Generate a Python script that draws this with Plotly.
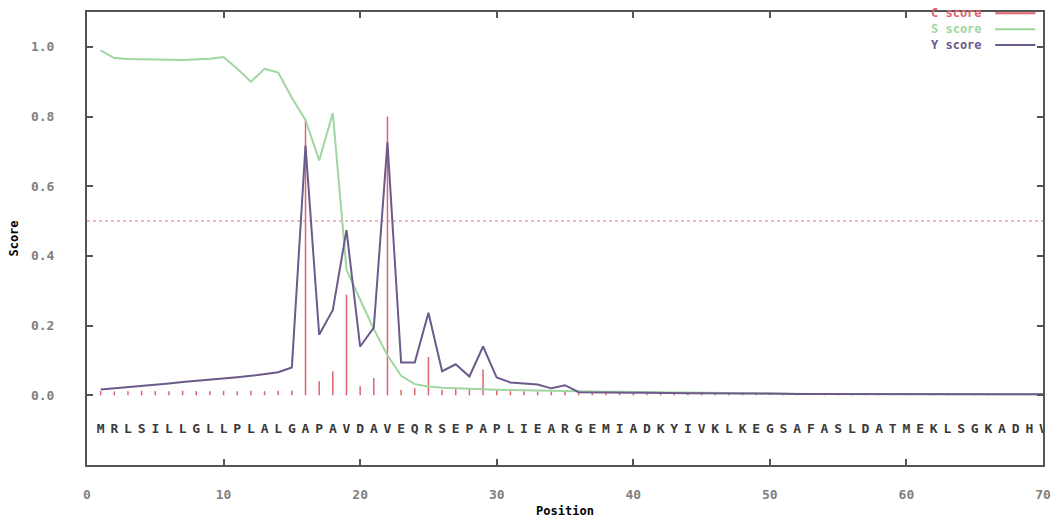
import plotly.graph_objects as go

positions = list(range(1, 71))
sequence = list("MRLSILLGLLPLALGAPAVDAVEQRSEPAPLIEARGEMIADKYIVKLKEGSAFASLDATMEKLSGKADHV")

c_score = [0.012, 0.011, 0.012, 0.013, 0.012, 0.012, 0.013, 0.012, 0.012, 0.013,
           0.012, 0.013, 0.012, 0.013, 0.014, 0.79, 0.04, 0.069, 0.289, 0.026,
           0.05, 0.80, 0.015, 0.02, 0.11, 0.015, 0.02, 0.02, 0.074, 0.015,
           0.012, 0.012, 0.011, 0.012, 0.011, 0.01, 0.01, 0.009, 0.009, 0.009,
           0.008, 0.008, 0.008, 0.008, 0.007, 0.007, 0.007, 0.007, 0.006, 0.006,
           0.006, 0.006, 0.005, 0.005, 0.005, 0.005, 0.005, 0.005, 0.005, 0.005,
           0.004, 0.004, 0.004, 0.004, 0.004, 0.004, 0.004, 0.004, 0.004, 0.004]

s_score = [0.99, 0.968, 0.965, 0.965, 0.963, 0.963, 0.962, 0.963, 0.966, 0.971,
           0.937, 0.90, 0.937, 0.926, 0.854, 0.79, 0.674, 0.81, 0.36, 0.275,
           0.19, 0.115, 0.056, 0.032, 0.025, 0.022, 0.02, 0.02, 0.018, 0.016,
           0.015, 0.014, 0.013, 0.013, 0.012, 0.011, 0.011, 0.01, 0.01, 0.009,
           0.009, 0.008, 0.008, 0.008, 0.007, 0.007, 0.006, 0.006, 0.006, 0.005,
           0.005, 0.005, 0.004, 0.004, 0.004, 0.004, 0.004, 0.003, 0.003, 0.003,
           0.003, 0.003, 0.003, 0.003, 0.003, 0.003, 0.003, 0.003, 0.003, 0.003]

y_score = [0.017, 0.02, 0.023, 0.027, 0.031, 0.034, 0.038, 0.041, 0.045, 0.048,
           0.052, 0.056, 0.06, 0.066, 0.08, 0.717, 0.174, 0.245, 0.474, 0.14,
           0.194, 0.726, 0.094, 0.094, 0.237, 0.069, 0.089, 0.054, 0.14, 0.051,
           0.037, 0.035, 0.031, 0.02, 0.029, 0.009, 0.008, 0.008, 0.007, 0.007,
           0.007, 0.006, 0.006, 0.006, 0.006, 0.005, 0.005, 0.005, 0.005, 0.004,
           0.004, 0.004, 0.004, 0.004, 0.004, 0.003, 0.003, 0.003, 0.003, 0.003,
           0.003, 0.003, 0.003, 0.003, 0.003, 0.003, 0.003, 0.003, 0.003, 0.003]

cutoff = 0.5
x_ticks = [0, 10, 20, 30, 40, 50, 60, 70]
y_ticks = [0.0, 0.2, 0.4, 0.6, 0.8, 1.0]

C_COL = "#e0626e"
S_COL = "#a0d6a0"
Y_COL = "#6c5a8c"
CUT_COL = "#f0a0a8"

fig = go.Figure()

# cutoff dotted line
fig.add_trace(go.Scatter(x=[0, 70], y=[cutoff, cutoff], mode="lines",
                         line=dict(color=CUT_COL, width=1.5, dash="dot"),
                         hoverinfo="skip", showlegend=False))

# C score impulses
cx, cy = [], []
for p, v in zip(positions, c_score):
    cx += [p, p, None]
    cy += [0, v, None]
fig.add_trace(go.Scatter(x=cx, y=cy, mode="lines", line=dict(color=C_COL, width=1.5),
                         name="C score", showlegend=False))

fig.add_trace(go.Scatter(x=positions, y=s_score, mode="lines",
                         line=dict(color=S_COL, width=2), name="S score", showlegend=False))
fig.add_trace(go.Scatter(x=positions, y=y_score, mode="lines",
                         line=dict(color=Y_COL, width=2), name="Y score", showlegend=False))

# sequence letters
fig.add_trace(go.Scatter(x=positions, y=[-0.1] * len(positions), mode="text",
                         text=sequence,
                         textfont=dict(family="DejaVu Sans Mono", size=13, color="#3a3a3a",
                                       weight="bold"),
                         hoverinfo="skip", showlegend=False))

# manual gnuplot-style legend
legend_items = [("C score", C_COL, 0.0), ("S score", S_COL, 1.0), ("Y score", Y_COL, 2.0)]
for label, col, i in legend_items:
    yy = 0.997 - i * 0.035
    fig.add_annotation(x=0.938, y=yy, xref="paper", yref="paper", text=label,
                       showarrow=False, xanchor="right", yanchor="middle",
                       font=dict(family="DejaVu Sans Mono", size=12, color=col, weight="bold"))
    fig.add_shape(type="line", xref="paper", yref="paper", x0=0.95, x1=0.992,
                  y0=yy, y1=yy, line=dict(color=col, width=2))

axis_common = dict(showgrid=False, zeroline=False, showline=True, linecolor="#555555",
                   linewidth=2, mirror="allticks", ticks="inside", ticklen=6,
                   tickcolor="#555555", tickwidth=1.5, automargin=False,
                   tickfont=dict(family="DejaVu Sans Mono", size=13, color="#808080",
                                 weight="bold"))

fig.update_xaxes(range=[0, 70], tickvals=x_ticks, ticktext=[str(t) for t in x_ticks],
                 ticklabelstandoff=16,
                 title=dict(text="Position", standoff=6,
                            font=dict(family="DejaVu Sans Mono", size=12, color="#000000",
                                      weight="bold")),
                 **axis_common)
fig.update_yaxes(range=[-0.2, 1.1], tickvals=y_ticks,
                 ticktext=[f"{t:.1f}" for t in y_ticks], ticklabelstandoff=28,
                 title=dict(text="Score", standoff=10,
                            font=dict(family="DejaVu Sans Mono", size=12, color="#000000",
                                      weight="bold")),
                 **axis_common)

fig.update_layout(width=1056, height=525, margin=dict(l=87, r=13, t=12, b=60),
                  plot_bgcolor="white", paper_bgcolor="white", showlegend=False)

fig.write_html("out.html")
